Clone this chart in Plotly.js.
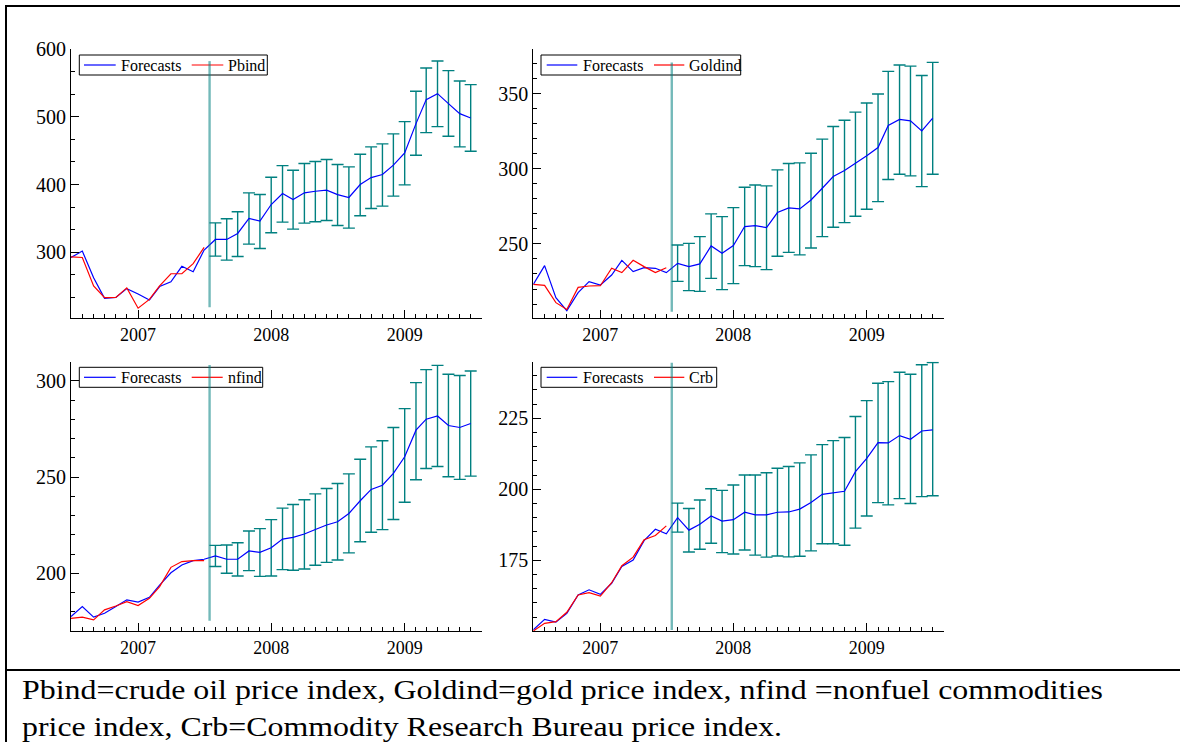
<!DOCTYPE html>
<html>
<head>
<meta charset="utf-8">
<script src="https://cdn.plot.ly/plotly-3.0.1.min.js"></script>
<style>
html,body{margin:0;padding:0;background:#fff;overflow:hidden;}
#chart{width:1180px;height:742px;}
</style>
</head>
<body>
<div id="chart"></div>
<script>
// ---------- data ----------
const months = ["2006-07","2006-08","2006-09","2006-10","2006-11","2006-12",
  "2007-01","2007-02","2007-03","2007-04","2007-05","2007-06","2007-07","2007-08","2007-09","2007-10","2007-11","2007-12",
  "2008-01","2008-02","2008-03","2008-04","2008-05","2008-06","2008-07","2008-08","2008-09","2008-10","2008-11","2008-12",
  "2009-01","2009-02","2009-03","2009-04","2009-05","2009-06","2009-07"];
const sampleMonths = months.slice(0, 13);     // 2006-07 .. 2007-07
const forecastMonths = months.slice(13);      // 2007-08 .. 2009-07
const forecastStart = "2007-07-16";
const yearTicks = ["2007","2008","2009"];

const pbindActual = [293, 292, 250, 232.5, 233, 247, 217, 230, 250, 268, 268, 283, 307];
const pbindFit    = [292, 301.5, 262, 231.5, 233, 246, 238, 229, 249, 256, 279, 271, 303];
const pbindFc  = [318.7, 318.7, 327.6, 349.8, 345.8, 370.4, 386.7, 377.8, 387.7, 390, 391.6, 385, 380.8, 400, 410.3, 414.8, 428.6, 446.8, 490.1, 525.6, 534.5, 519.7, 504.9, 498.5];
const pbindUp  = [343.3, 349.3, 359.6, 387.7, 385.2, 410.8, 428, 421.2, 431, 434, 436.9, 429.6, 426.1, 444.8, 455.7, 460.1, 474.9, 493.1, 537.9, 572.4, 582.8, 568.5, 553.2, 547.8];
const pbindLo  = [294.1, 288.2, 293.6, 311.8, 305.4, 328.6, 344.3, 334, 342.9, 344.8, 346.8, 339.4, 335.5, 353.7, 364.5, 368, 382.8, 399.5, 443.3, 476.8, 485.7, 471.4, 455.7, 449.3];

const goldActual = [223.1, 222.4, 210.9, 206.4, 221.1, 222, 222.2, 233.8, 230.9, 239.1, 234.9, 230.9, 234.2];
const goldFit    = [223.1, 235.6, 214.2, 205.6, 217.6, 224.9, 222.7, 229.3, 239.1, 231.6, 234.2, 233.8, 230.9];
const goldFc  = [237.1, 234.9, 236.7, 248.7, 243.8, 248.9, 261.6, 262.2, 260.9, 270.9, 274, 273.3, 279.3, 287.1, 294.9, 298.9, 303.6, 308.7, 314.2, 328.9, 332.9, 332, 325.3, 333.8];
const goldUp  = [249.3, 250.4, 254.9, 270, 268.2, 274.2, 287.8, 289.3, 288.7, 299.3, 303.6, 304, 310.4, 319.8, 328.2, 332.4, 337.8, 343.8, 349.8, 364.9, 369.1, 368.4, 362.2, 370.9];
const goldLo  = [225.1, 218.9, 218.4, 227.1, 219.6, 223.6, 235.6, 234.9, 232.9, 241.8, 244.4, 242.7, 247.3, 254.9, 261.1, 264.2, 268.4, 273.1, 278.2, 292.9, 296.4, 295.3, 288.2, 296.4];

const nfindActual = [176.6, 177.2, 175.8, 181, 183, 185.3, 183.2, 187, 193.1, 203.1, 206.1, 206.6, 206.6];
const nfindFit    = [177.5, 182.7, 177.2, 179.2, 182.7, 186.2, 185, 187.5, 193.9, 200.3, 204.3, 206.6, 207.3];
const nfindFc  = [209, 207.3, 207.3, 211.6, 210.9, 213.3, 217.8, 218.7, 220.4, 222.8, 225.1, 226.8, 231.1, 237.7, 243.6, 245.8, 251.9, 260.6, 274.4, 280.1, 281.8, 276.8, 275.8, 277.9];
const nfindUp  = [214.5, 214.7, 215.9, 222, 223.2, 227.9, 233.9, 235.8, 238.2, 241.3, 244.1, 246.7, 251.7, 259.3, 265.7, 268.9, 275.8, 285.6, 299.1, 305.9, 308.1, 303.5, 302.8, 305.2];
const nfindLo  = [203.5, 200, 198.6, 201.4, 198.4, 198.6, 201.9, 201.6, 202.2, 204.2, 205.7, 206.9, 210.6, 216.4, 221.3, 222.7, 228, 236.9, 248.6, 254.5, 255.5, 250.2, 248.8, 250.5];

const crbActual = [150.1, 152.8, 153.4, 156.7, 162.8, 163.6, 162.4, 167.1, 173.1, 176.1, 182.2, 183.7, 187.1];
const crbFit    = [150.5, 154.2, 153.2, 156.3, 162.8, 164.6, 163, 166.9, 172.8, 175.1, 181.9, 185.9, 184.3];
const crbFc  = [190, 185.6, 187.7, 190.6, 188.8, 189.3, 191.9, 191, 191, 191.9, 192, 193, 195.3, 198.2, 198.8, 199.3, 206.2, 210.9, 216.4, 216.3, 218.9, 217.6, 220.5, 220.9];
const crbUp  = [195.1, 193.2, 196.2, 200.2, 199.6, 201.5, 205, 205, 205.8, 207.4, 208, 209.3, 212.1, 215.7, 217.1, 218.2, 225.6, 231.2, 237.3, 237.9, 241.2, 240.5, 243.8, 244.6];
const crbLo  = [184.9, 177.9, 178.9, 181, 177.7, 177.2, 178.6, 176.8, 176.1, 176.5, 176.2, 176.4, 178.3, 180.8, 180.8, 180.3, 186.3, 190.6, 195.3, 194.5, 196.7, 195, 197.4, 197.7];

const seriesNames = ["Pbind", "Goldind", "nfind", "Crb"];
const forecastName = "Forecasts";
const captionLines = [
  "Pbind=crude oil price index, Goldind=gold price index, nfind =nonfuel commodities",
  "price index, Crb=Commodity Research Bureau price index."
];

// ---------- styling ----------
const W = 1180, H = 742;
const FONT = "Liberation Serif, Times New Roman, serif";
const BLUE = "#0000ff", RED = "#ff0000", TEAL = "#008080";
const px = v => v / W;
const py = v => (H - v) / H;

// legend geometry (pixels): box, blue sample, label x, red sample, name x
const panels = [
  {act: pbindActual, fit: pbindFit, fc: pbindFc, up: pbindUp, lo: pbindLo, name: seriesNames[0],
   xd: [px(71), px(482)], yd: [py(318), py(49)], range: [202.5, 600.5], dtick: 100, minor: 100/3,
   vline: [0.04, 0.955],
   leg: {box: [79.3, 267.3, 55, 75], b: [84, 115.7], t1: 120.7, r: [191.7, 223.3], t2: 227.7}},
  {act: goldActual, fit: goldFit, fc: goldFc, up: goldUp, lo: goldLo, name: seriesNames[1],
   xd: [px(533.3), px(944)], yd: [py(318), py(49)], range: [200.7, 379.8], dtick: 50, minor: 10,
   vline: [0.023, 0.95],
   leg: {box: [541, 740.7, 55, 75], b: [546.7, 577.3], t1: 582.7, r: [654, 684.3], t2: 689.3}},
  {act: nfindActual, fit: nfindFit, fc: nfindFc, up: nfindUp, lo: nfindLo, name: seriesNames[2],
   xd: [px(71), px(482)], yd: [py(631), py(361.7)], range: [170, 310], dtick: 50, minor: 10,
   vline: [0.038, 0.988],
   leg: {box: [79.3, 262.7, 367.3, 387.3], b: [84, 115.7], t1: 120.7, r: [191.7, 222.7], t2: 227.7}},
  {act: crbActual, fit: crbFit, fc: crbFc, up: crbUp, lo: crbLo, name: seriesNames[3],
   xd: [px(533.3), px(944)], yd: [py(631), py(361.7)], range: [150.1, 244.9], dtick: 25, minor: 5,
   vline: [0.004, 0.996],
   leg: {box: [541, 716.7, 367.3, 387.3], b: [546.7, 577.3], t1: 582.7, r: [654, 684.3], t2: 689.3}}
];

const traces = [];
const layout = {
  width: W, height: H,
  margin: {l: 0, r: 0, t: 0, b: 0},
  paper_bgcolor: "#fff", plot_bgcolor: "rgba(0,0,0,0)",
  font: {family: FONT, size: 16, color: "#000"},
  showlegend: false,
  shapes: [], annotations: []
};
const vlines = [];

panels.forEach((p, i) => {
  const n = i + 1;
  const xa = n === 1 ? "x" : "x" + n;
  const ya = n === 1 ? "y" : "y" + n;

  traces.push({
    type: "scatter", mode: "markers", x: forecastMonths, y: p.fc,
    xaxis: xa, yaxis: ya, showlegend: false, hoverinfo: "skip",
    marker: {size: 1, color: "rgba(0,0,0,0)"},
    error_y: {type: "data", symmetric: false,
      array: p.up.map((u, k) => u - p.fc[k]),
      arrayminus: p.fc.map((f, k) => f - p.lo[k]),
      color: TEAL, thickness: 1.4, width: 6}
  });
  traces.push({
    type: "scatter", mode: "lines", name: forecastName,
    x: months, y: p.fit.concat(p.fc),
    xaxis: xa, yaxis: ya,
    line: {color: BLUE, width: 1.2}
  });
  traces.push({
    type: "scatter", mode: "lines", name: p.name,
    x: sampleMonths, y: p.act,
    xaxis: xa, yaxis: ya,
    line: {color: RED, width: 1.2}
  });

  layout["xaxis" + (n === 1 ? "" : n)] = {
    domain: p.xd, anchor: ya, type: "date",
    range: ["2006-07-01", "2009-08-01"],
    tickmode: "array", tickvals: yearTicks.map(y => y + "-01-01"), ticktext: yearTicks,
    ticks: "inside", ticklen: 8, tickwidth: 1, tickcolor: "#000",
    minor: {dtick: "M1", tick0: "2007-01-01", ticks: "inside", ticklen: 4, tickwidth: 1, tickcolor: "#000", showgrid: false},
    showline: true, linecolor: "#000", linewidth: 1,
    showgrid: false, zeroline: false,
    tickfont: {family: FONT, size: 18, color: "#000"}
  };
  layout["yaxis" + (n === 1 ? "" : n)] = {
    domain: p.yd, anchor: xa, range: p.range,
    dtick: p.dtick, tick0: 0,
    ticks: "inside", ticklen: 8, tickwidth: 1, tickcolor: "#000",
    minor: {dtick: p.minor, tick0: 0, ticks: "inside", ticklen: 4, tickwidth: 1, tickcolor: "#000", showgrid: false},
    showline: true, linecolor: "#000", linewidth: 1,
    showgrid: false, zeroline: false,
    tickfont: {family: FONT, size: 20, color: "#000"}
  };

  // legend box (drawn as shapes + text)
  const L = p.leg;
  const yc = (L.box[2] + L.box[3]) / 2;
  layout.shapes.push(
    {type: "rect", xref: "paper", yref: "paper", x0: px(L.box[0]), x1: px(L.box[1]), y0: py(L.box[3]), y1: py(L.box[2]),
     line: {color: "#000", width: 1}, fillcolor: "#fff"},
    {type: "line", xref: "paper", yref: "paper", x0: px(L.b[0]), x1: px(L.b[1]), y0: py(yc), y1: py(yc), line: {color: BLUE, width: 1.2}},
    {type: "line", xref: "paper", yref: "paper", x0: px(L.r[0]), x1: px(L.r[1]), y0: py(yc), y1: py(yc), line: {color: RED, width: 1.2}}
  );
  [[forecastName, L.t1], [p.name, L.t2]].forEach(([txt, xl]) => {
    layout.annotations.push({
      text: txt, xref: "paper", yref: "paper", x: px(xl), y: py(yc),
      xanchor: "left", yanchor: "middle", showarrow: false,
      borderpad: 0, borderwidth: 0,
      font: {family: FONT, size: 16, color: "#000"}
    });
  });

  vlines.push({
    type: "line", xref: xa, yref: ya + " domain",
    x0: forecastStart, x1: forecastStart, y0: p.vline[0], y1: p.vline[1],
    line: {color: "rgba(0,128,128,0.55)", width: 2.4}
  });
});
layout.shapes = layout.shapes.concat(vlines);

// frame lines
layout.shapes.push(
  {type: "line", xref: "paper", yref: "paper", x0: px(5), x1: 1, y0: py(6), y1: py(6), line: {color: "#000", width: 2}},
  {type: "line", xref: "paper", yref: "paper", x0: px(6), x1: px(6), y0: py(5), y1: 0, line: {color: "#000", width: 2}},
  {type: "line", xref: "paper", yref: "paper", x0: px(5), x1: 1, y0: py(670), y1: py(670), line: {color: "#000", width: 2}}
);

// caption
const capBaselines = [697.5, 735];
captionLines.forEach((t, i) => {
  layout.annotations.push({
    text: t, xref: "paper", yref: "paper", x: px(21.5), y: py(capBaselines[i] + 7),
    xanchor: "left", yanchor: "bottom", align: "left", showarrow: false,
    borderpad: 0, borderwidth: 0,
    font: {family: FONT, size: 27, color: "#000"}
  });
});

const captionWidths = [1081, 760];
Plotly.newPlot("chart", traces, layout, {displayModeBar: false, staticPlot: true}).then(gd => {
  document.querySelectorAll("#chart .annotation-text").forEach(el => {
    const idx = captionLines.indexOf(el.textContent);
    if (idx < 0) return;
    const bb = el.getBBox();
    el.setAttribute("text-anchor", "start");
    el.setAttribute("x", bb.x);
    el.setAttribute("textLength", captionWidths[idx]);
    el.setAttribute("lengthAdjust", "spacingAndGlyphs");
  });
});
</script>
</body>
</html>
